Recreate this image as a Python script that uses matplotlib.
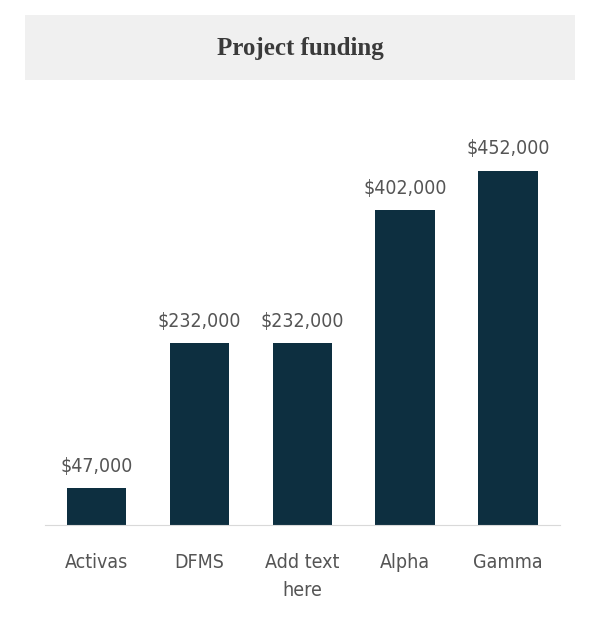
import matplotlib.pyplot as plt
from matplotlib.patches import Rectangle

categories = ["Activas", "DFMS", "Add text\nhere", "Alpha", "Gamma"]
funding = [47000, 232000, 232000, 402000, 452000]
value_labels = ["$47,000", "$232,000", "$232,000", "$402,000", "$452,000"]

plt.rcParams['font.family'] = ['DejaVu Sans']
plt.rcParams['font.stretch'] = 'condensed'

fig = plt.figure(figsize=(5.89, 6.2), dpi=100)
fig.patches.append(Rectangle((0.042, 0.871), 0.934, 0.105, transform=fig.transFigure,
                             facecolor="#f0f0f0", edgecolor="none", zorder=0))
fig.text(0.51, 0.922, "Project funding", ha="center", va="center", fontsize=18,
         family=['Liberation Serif', 'DejaVu Serif'], fontweight="bold", color="#3a3a3a")

ax = fig.add_axes([0.0764, 0.153, 0.874, 0.632])
x = range(len(categories))
ax.bar(x, funding, width=0.58, color="#0d2f40")
for i, (v, lab) in enumerate(zip(funding, value_labels)):
    ax.text(i, v + 16000, lab, ha="center", va="bottom", fontsize=14, color="#555555")

ax.set_xlim(-0.5, 4.5)
ax.set_ylim(0, 500000)
ax.set_xticks(list(x))
ax.set_xticklabels(categories, fontsize=14, color="#555555", linespacing=1.6)
ax.tick_params(axis="x", length=0, pad=20)
ax.set_yticks([])
for s in ["top", "right", "left"]:
    ax.spines[s].set_visible(False)
ax.spines["bottom"].set_color("#d9d9d9")

fig.savefig("out.png", dpi=100)
